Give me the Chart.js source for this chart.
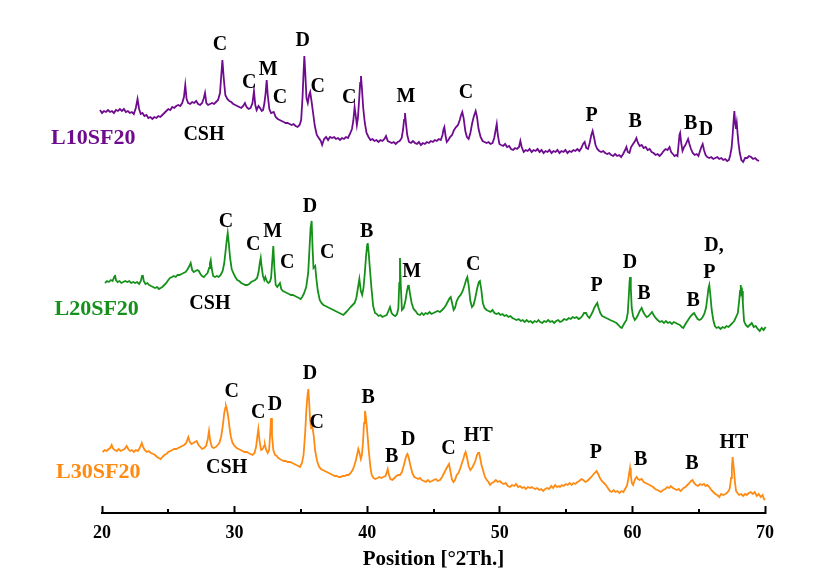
<!DOCTYPE html>
<html>
<head>
<meta charset="utf-8">
<script src="https://cdn.jsdelivr.net/npm/chart.js@4.4.1/dist/chart.umd.min.js"></script>
<style>
html,body{margin:0;padding:0;background:#fff;}
canvas{display:block;}
</style>
</head>
<body>
<canvas id="c" width="833" height="580"></canvas>
<script>
// Series: [2θ (deg), intensity (a.u., stacked as plotted)]
const seriesNames = ['L10SF20', 'L20SF20', 'L30SF20'];

const l10sf20 = [
[19.70,401],[19.85,403],[20.00,400],[20.15,402],[20.30,401],[20.45,403],[20.60,401],[20.75,402],[20.90,400],[21.05,403],
[21.20,402],[21.35,404],[21.50,402],[21.65,404],[21.80,401],[21.95,402],[22.10,400],[22.25,401],[22.40,399],[22.55,405],
[22.68,414],[22.80,404],[22.92,399],[23.05,400],[23.20,397],[23.35,398],[23.50,395],[23.65,396],[23.80,394],[23.95,396],
[24.10,395],[24.25,397],[24.40,396],[24.55,398],[24.70,400],[24.85,402],[25.00,404],[25.15,403],[25.30,406],[25.45,405],
[25.60,407],[25.75,408],[25.90,407],[26.05,410],[26.18,416],[26.28,428],[26.38,414],[26.50,410],[26.65,409],[26.80,411],
[26.95,410],[27.10,412],[27.25,409],[27.40,408],[27.55,410],[27.68,415],[27.77,420],[27.87,410],[28.00,408],[28.15,409],
[28.30,410],[28.45,409],[28.60,411],[28.75,413],[28.90,420],[28.98,435],[29.08,453],[29.18,435],[29.30,418],[29.45,414],
[29.60,412],[29.75,411],[29.90,409],[30.05,408],[30.20,407],[30.35,406],[30.50,405],[30.65,407],[30.78,410],[30.90,406],
[31.05,404],[31.20,405],[31.35,410],[31.46,422],[31.56,408],[31.66,403],[31.80,407],[31.92,405],[32.05,402],[32.15,403],
[32.25,410],[32.34,420],[32.42,433],[32.50,418],[32.62,404],[32.75,400],[32.95,401],[33.10,396],[33.25,394],[33.40,393],
[33.55,392],[33.70,391],[33.85,390],[34.00,390],[34.15,389],[34.30,388],[34.45,389],[34.60,387],[34.75,386],[34.90,388],
[35.02,393],[35.12,415],[35.20,440],[35.26,457],[35.33,440],[35.42,415],[35.52,410],[35.62,418],[35.70,421],[35.80,412],
[35.92,400],[36.05,387],[36.20,378],[36.35,375],[36.50,372],[36.60,368],[36.75,374],[36.90,376],[37.05,373],[37.20,376],
[37.35,375],[37.50,376],[37.65,374],[37.80,375],[37.95,373],[38.10,375],[38.25,374],[38.40,376],[38.55,375],[38.70,379],
[38.85,384],[38.95,392],[39.05,406],[39.13,398],[39.22,388],[39.30,395],[39.40,415],[39.47,430],[39.53,437],[39.60,425],
[39.70,405],[39.82,390],[39.95,380],[40.10,376],[40.25,373],[40.40,374],[40.55,372],[40.70,373],[40.85,371],[41.00,373],
[41.15,372],[41.30,374],[41.42,377],[41.55,372],[41.70,371],[41.85,370],[42.00,371],[42.15,369],[42.30,371],[42.45,372],
[42.60,375],[42.70,383],[42.78,393],[42.85,400],[42.92,390],[43.02,378],[43.15,371],[43.30,370],[43.45,372],[43.60,370],
[43.75,369],[43.90,371],[44.05,368],[44.20,370],[44.35,369],[44.50,371],[44.65,370],[44.80,372],[44.95,371],[45.10,373],
[45.25,372],[45.40,374],[45.55,373],[45.68,378],[45.76,384],[45.82,386],[45.90,378],[46.00,371],[46.12,373],[46.25,376],
[46.40,378],[46.55,383],[46.70,386],[46.85,388],[46.98,393],[47.08,398],[47.17,401],[47.27,395],[47.40,382],[47.52,376],
[47.65,374],[47.78,380],[47.92,390],[48.05,397],[48.18,402],[48.28,396],[48.40,384],[48.55,376],[48.70,372],[48.85,371],
[49.00,370],[49.15,371],[49.30,369],[49.45,370],[49.58,375],[49.70,384],[49.77,389],[49.85,378],[49.97,369],[50.10,368],
[50.25,367],[50.40,369],[50.55,366],[50.70,367],[50.85,364],[51.00,363],[51.15,365],[51.30,364],[51.45,366],[51.55,372],
[51.65,366],[51.80,361],[51.95,363],[52.10,362],[52.25,364],[52.40,361],[52.55,363],[52.70,362],[52.85,364],[53.00,361],
[53.15,363],[53.30,360],[53.45,362],[53.60,361],[53.75,363],[53.90,360],[54.05,362],[54.20,361],[54.35,363],[54.50,360],
[54.65,362],[54.80,361],[54.95,363],[55.10,360],[55.25,362],[55.40,361],[55.55,363],[55.70,362],[55.85,364],[56.00,362],
[56.15,365],[56.28,369],[56.40,371],[56.52,365],[56.65,364],[56.78,370],[56.90,378],[57.00,382],[57.10,376],[57.22,368],
[57.35,364],[57.50,362],[57.65,361],[57.80,362],[57.95,360],[58.10,359],[58.25,360],[58.40,358],[58.55,357],[58.70,359],
[58.85,357],[59.00,358],[59.15,356],[59.30,359],[59.45,363],[59.55,366],[59.65,361],[59.78,360],[59.90,366],[60.05,369],
[60.20,372],[60.30,375],[60.42,370],[60.55,367],[60.70,368],[60.85,365],[61.00,366],[61.15,363],[61.30,364],[61.45,361],
[61.60,360],[61.75,358],[61.90,359],[62.05,357],[62.20,359],[62.35,362],[62.50,364],[62.65,363],[62.80,366],[62.92,361],
[63.05,359],[63.18,357],[63.30,358],[63.40,357],[63.48,368],[63.55,378],[63.60,380],[63.68,370],[63.78,362],[63.90,366],
[64.00,368],[64.10,371],[64.20,374],[64.30,369],[64.42,364],[64.55,360],[64.70,358],[64.85,359],[64.98,357],[65.10,362],
[65.20,366],[65.30,369],[65.40,363],[65.52,358],[65.65,356],[65.80,355],[65.95,356],[66.10,354],[66.25,355],[66.40,356],
[66.55,354],[66.70,355],[66.85,353],[67.00,354],[67.15,352],[67.28,353],[67.38,358],[67.48,365],[67.56,378],[67.63,392],
[67.69,402],[67.75,390],[67.81,384],[67.87,390],[67.93,380],[68.00,370],[68.10,360],[68.22,353],[68.35,351],[68.50,355],
[68.65,355],[68.80,357],[68.95,356],[69.10,354],[69.25,355],[69.40,353],[69.55,352],[69.60,352]
];

const l20sf20 = [
[20.23,230],[20.38,232],[20.52,231],[20.66,233],[20.80,232],[20.92,236],[20.98,238],[21.05,233],[21.18,231],[21.32,232],
[21.46,230],[21.60,231],[21.75,232],[21.90,231],[22.05,232],[22.20,230],[22.35,231],[22.50,230],[22.65,231],[22.80,229],
[22.93,232],[23.02,237],[23.07,238],[23.15,232],[23.28,229],[23.42,230],[23.56,228],[23.70,227],[23.85,226],[24.00,225],
[24.15,226],[24.30,224],[24.42,225],[24.55,226],[24.70,228],[24.85,230],[25.00,233],[25.13,235],[25.28,236],[25.42,237],
[25.56,236],[25.70,238],[25.85,238],[26.00,239],[26.15,240],[26.30,241],[26.42,243],[26.55,246],[26.69,250],[26.80,243],
[26.92,241],[27.05,242],[27.18,243],[27.30,242],[27.42,239],[27.55,237],[27.68,236],[27.82,238],[27.96,240],[28.08,245],
[28.14,250],[28.20,253],[28.27,245],[28.38,237],[28.52,236],[28.66,237],[28.80,236],[28.95,238],[29.10,242],[29.22,250],
[29.32,262],[29.40,272],[29.48,280],[29.56,270],[29.66,255],[29.78,244],[29.90,240],[30.05,236],[30.20,233],[30.35,232],
[30.50,230],[30.65,229],[30.80,228],[30.95,228],[31.10,229],[31.25,231],[31.40,232],[31.55,233],[31.70,235],[31.82,242],
[31.90,250],[31.97,255],[32.05,245],[32.14,237],[32.24,233],[32.32,236],[32.42,232],[32.55,230],[32.65,231],[32.75,235],
[32.84,252],[32.92,267],[33.00,245],[33.10,228],[33.22,226],[33.32,228],[33.42,230],[33.52,224],[33.65,222],[33.80,221],
[33.95,220],[34.10,219],[34.25,218],[34.40,218],[34.55,217],[34.70,216],[34.85,215],[34.98,214],[35.10,216],[35.25,220],
[35.40,226],[35.55,240],[35.65,265],[35.73,285],[35.81,292],[35.88,265],[35.95,245],[36.02,246],[36.08,247],[36.16,235],
[36.28,222],[36.42,213],[36.55,210],[36.70,208],[36.85,207],[37.00,206],[37.15,205],[37.30,204],[37.45,203],[37.60,202],
[37.75,201],[37.90,200],[38.05,199],[38.20,198],[38.35,200],[38.50,202],[38.62,204],[38.75,206],[38.90,208],[39.05,210],
[39.18,215],[39.30,225],[39.41,234],[39.52,222],[39.62,218],[39.72,225],[39.82,240],[39.92,258],[40.00,268],[40.04,270],
[40.10,262],[40.20,245],[40.32,225],[40.45,207],[40.59,200],[40.72,199],[40.85,197],[41.00,198],[41.15,196],[41.30,197],
[41.47,198],[41.60,202],[41.72,206],[41.84,200],[41.98,198],[42.12,197],[42.25,199],[42.35,205],[42.42,230],[42.47,255],
[42.54,225],[42.62,203],[42.75,205],[42.88,212],[43.00,222],[43.08,227],[43.13,228],[43.22,220],[43.35,210],[43.50,204],
[43.65,202],[43.80,199],[43.98,198],[44.12,200],[44.26,198],[44.40,200],[44.55,199],[44.70,201],[44.85,199],[45.00,200],
[45.15,201],[45.30,202],[45.49,201],[45.65,203],[45.80,205],[45.95,208],[46.10,212],[46.22,215],[46.30,216],[46.40,210],
[46.52,203],[46.62,205],[46.75,212],[46.90,216],[47.05,218],[47.20,222],[47.35,228],[47.48,234],[47.55,236],[47.65,228],
[47.78,212],[47.90,206],[48.02,208],[48.15,215],[48.30,225],[48.42,231],[48.50,232],[48.60,224],[48.72,210],[48.85,205],
[49.00,203],[49.15,202],[49.30,201],[49.45,203],[49.60,200],[49.75,199],[49.90,200],[50.05,198],[50.20,199],[50.35,197],
[50.50,198],[50.65,196],[50.80,197],[50.95,195],[51.10,194],[51.27,193],[51.42,194],[51.58,192],[51.72,193],[51.88,191],
[52.02,193],[52.18,191],[52.32,192],[52.48,190],[52.62,192],[52.78,191],[52.92,193],[53.05,191],[53.20,190],[53.35,192],
[53.50,191],[53.65,193],[53.80,191],[53.95,192],[54.10,190],[54.25,192],[54.40,193],[54.55,191],[54.70,192],[54.85,194],
[55.04,193],[55.20,195],[55.35,194],[55.50,196],[55.65,195],[55.80,196],[55.95,194],[56.08,195],[56.22,197],[56.35,200],
[56.50,200],[56.62,197],[56.75,195],[56.88,198],[57.00,201],[57.12,205],[57.25,208],[57.35,210],[57.45,205],[57.58,200],
[57.72,197],[57.88,196],[58.02,195],[58.18,194],[58.32,193],[58.50,192],[58.65,191],[58.80,190],[58.95,188],[59.08,186],
[59.20,185],[59.32,188],[59.45,191],[59.55,193],[59.65,200],[59.72,215],[59.78,230],[59.82,236],[59.88,225],[59.95,205],
[60.05,197],[60.18,193],[60.30,195],[60.42,198],[60.55,202],[60.70,205],[60.82,201],[60.95,198],[61.08,196],[61.22,197],
[61.35,199],[61.48,201],[61.60,198],[61.75,195],[61.90,193],[62.08,191],[62.22,192],[62.38,190],[62.52,192],[62.68,190],
[62.82,191],[62.98,189],[63.12,191],[63.28,190],[63.42,189],[63.58,188],[63.72,186],[63.84,185],[63.96,188],[64.10,191],
[64.25,194],[64.40,197],[64.55,199],[64.65,200],[64.78,197],[64.92,194],[65.05,193],[65.18,194],[65.30,196],[65.42,199],
[65.55,205],[65.65,215],[65.74,225],[65.80,228],[65.88,218],[65.98,203],[66.10,193],[66.22,187],[66.35,185],[66.50,186],
[66.65,184],[66.80,186],[66.95,185],[67.10,187],[67.25,186],[67.40,188],[67.55,190],[67.68,192],[67.82,196],[67.95,200],
[68.05,212],[68.12,222],[68.17,228],[68.22,220],[68.27,222],[68.33,210],[68.42,192],[68.55,188],[68.70,186],[68.85,188],
[69.00,190],[69.15,186],[69.30,187],[69.45,184],[69.60,182],[69.75,185],[69.90,183],[70.05,186]
];

const l30sf20 = [
[20.05,61],[20.20,63],[20.35,62],[20.50,64],[20.62,65],[20.73,68],[20.85,64],[20.98,63],[21.12,62],[21.25,64],
[21.40,62],[21.55,63],[21.70,64],[21.86,67],[21.98,64],[22.12,62],[22.26,63],[22.40,61],[22.55,63],[22.70,62],
[22.85,65],[22.94,68],[23.00,70],[23.10,66],[23.22,63],[23.38,61],[23.52,62],[23.68,60],[23.87,59],[24.00,58],
[24.15,56],[24.28,55],[24.42,54],[24.55,56],[24.70,58],[24.85,59],[25.00,61],[25.15,62],[25.30,63],[25.45,64],
[25.60,64],[25.75,65],[25.90,66],[26.05,67],[26.20,68],[26.35,70],[26.51,76],[26.62,71],[26.75,69],[26.88,70],
[27.00,71],[27.14,72],[27.28,68],[27.42,66],[27.55,64],[27.70,65],[27.85,67],[27.98,74],[28.07,82],[28.15,73],
[28.28,66],[28.42,65],[28.58,66],[28.72,68],[28.85,70],[28.98,76],[29.10,86],[29.22,100],[29.30,105],[29.35,107],
[29.42,104],[29.52,96],[29.62,85],[29.72,76],[29.85,70],[30.00,67],[30.15,65],[30.30,64],[30.45,63],[30.60,62],
[30.75,61],[30.91,61],[31.05,60],[31.20,59],[31.35,58],[31.50,60],[31.62,66],[31.72,77],[31.79,84],[31.88,72],
[32.00,63],[32.12,64],[32.22,67],[32.29,68],[32.38,63],[32.50,60],[32.60,63],[32.68,78],[32.75,95],[32.82,78],
[32.92,63],[33.05,58],[33.18,57],[33.30,55],[33.42,54],[33.55,53],[33.70,52],[33.85,52],[34.00,51],[34.18,51],
[34.35,50],[34.50,49],[34.65,48],[34.80,47],[34.93,46],[35.08,50],[35.20,58],[35.32,80],[35.42,105],[35.50,118],
[35.56,124],[35.62,112],[35.70,92],[35.78,85],[35.87,86],[35.96,78],[36.08,62],[36.22,52],[36.35,47],[36.50,44],
[36.65,43],[36.80,42],[36.95,41],[37.10,40],[37.25,39],[37.40,38],[37.55,37],[37.70,37],[37.85,36],[38.00,36],
[38.15,37],[38.30,37],[38.45,38],[38.60,38],[38.75,40],[38.90,43],[39.02,47],[39.15,53],[39.25,59],[39.33,64],
[39.42,60],[39.52,54],[39.60,58],[39.68,70],[39.76,90],[39.83,102],[39.90,96],[40.00,82],[40.12,62],[40.25,45],
[40.34,38],[40.48,35],[40.62,34],[40.78,35],[40.92,36],[41.06,35],[41.21,36],[41.38,37],[41.48,41],[41.55,44],
[41.62,39],[41.75,34],[41.90,33],[42.05,35],[42.20,37],[42.35,38],[42.47,38],[42.62,41],[42.75,47],[42.88,54],
[42.98,58],[43.03,59],[43.12,56],[43.25,48],[43.40,40],[43.55,36],[43.70,35],[43.85,34],[43.98,35],[44.12,33],
[44.28,32],[44.42,31],[44.58,33],[44.72,31],[44.88,32],[45.02,33],[45.18,34],[45.32,32],[45.49,33],[45.65,36],
[45.80,40],[45.95,44],[46.08,47],[46.17,49],[46.26,43],[46.38,34],[46.50,31],[46.62,33],[46.75,38],[46.88,40],
[47.00,44],[47.12,49],[47.25,54],[47.35,59],[47.42,61],[47.52,56],[47.65,47],[47.78,43],[47.90,45],[48.02,48],
[48.15,52],[48.28,58],[48.36,60],[48.43,61],[48.52,55],[48.62,48],[48.75,42],[48.88,36],[49.02,33],[49.15,31],
[49.26,28],[49.40,30],[49.55,31],[49.70,33],[49.85,31],[50.00,32],[50.15,30],[50.30,29],[50.45,30],[50.60,27],
[50.77,26],[50.92,28],[51.08,27],[51.22,29],[51.38,26],[51.52,27],[51.68,25],[51.82,26],[51.98,24],[52.12,26],
[52.28,25],[52.40,26],[52.52,25],[52.68,24],[52.82,25],[52.98,23],[53.12,24],[53.28,22],[53.42,24],[53.58,25],
[53.72,24],[53.88,27],[54.02,25],[54.18,28],[54.32,26],[54.45,27],[54.54,26],[54.68,28],[54.82,27],[54.98,29],
[55.12,28],[55.28,30],[55.42,28],[55.55,30],[55.70,29],[55.85,31],[56.00,32],[56.15,34],[56.30,33],[56.45,31],
[56.60,32],[56.75,34],[56.90,36],[57.02,38],[57.15,40],[57.30,42],[57.42,39],[57.55,35],[57.70,32],[57.85,30],
[58.00,28],[58.15,25],[58.30,22],[58.44,21],[58.58,23],[58.72,21],[58.88,22],[59.02,20],[59.18,22],[59.32,21],
[59.45,24],[59.58,27],[59.68,33],[59.76,40],[59.82,45],[59.88,38],[59.96,30],[60.05,28],[60.15,32],[60.25,35],
[60.32,36],[60.42,34],[60.55,33],[60.70,34],[60.85,31],[61.00,30],[61.15,29],[61.30,28],[61.42,27],[61.57,26],
[61.72,24],[61.88,23],[62.02,22],[62.15,21],[62.32,23],[62.48,24],[62.62,26],[62.78,25],[62.90,27],[63.05,25],
[63.20,24],[63.35,23],[63.50,24],[63.62,22],[63.72,23],[63.86,25],[64.00,26],[64.15,28],[64.30,30],[64.42,32],
[64.54,33],[64.65,30],[64.80,28],[64.95,27],[65.10,29],[65.25,28],[65.40,29],[65.52,27],[65.65,28],[65.80,26],
[65.95,23],[66.10,21],[66.25,19],[66.40,18],[66.55,16],[66.70,19],[66.85,18],[67.00,19],[67.12,20],[67.25,22],
[67.35,25],[67.44,35],[67.50,45],[67.56,56],[67.62,48],[67.68,40],[67.74,30],[67.82,22],[67.92,20],[68.05,18],
[68.20,19],[68.35,17],[68.50,19],[68.62,18],[68.78,20],[68.92,21],[69.08,19],[69.22,21],[69.38,17],[69.52,19],
[69.68,16],[69.82,18],[69.92,14],[70.00,13]
];

const xTicks = [20, 30, 40, 50, 60, 70];
const xMinorTicks = [25, 35, 45, 55, 65];
const xTitle = 'Position [°2Th.]';

// Phase labels: [text, 2θ, intensity]
const phaseLabels = [
['C',28.90,468],['C',31.11,430],['M',32.54,443],['C',33.42,415],['D',35.14,472],['C',36.27,426],['C',38.65,415],
['M',42.93,416],['C',47.45,420],['P',56.93,397],['B',60.20,391],['B',64.40,389],['D',65.55,383],['CSH',27.69,378],
['C',29.35,291],['C',31.41,268],['M',32.87,281],['C',33.97,250],['D',35.69,306],['C',36.99,260],['B',39.96,281],
['M',43.36,241],['C',48.00,248],['P',57.30,227],['D',59.82,250],['B',60.87,219],['B',64.59,212],['D,',66.15,267],
['P',65.80,240],['CSH',28.14,209],
['C',29.78,121],['C',31.79,100],['D',33.05,108],['D',35.69,139],['C',36.19,90],['B',40.08,115],['B',41.85,56],
['D',43.10,73],['C',46.12,64],['HT',48.38,77],['P',57.25,60],['B',60.62,53],['B',64.49,49],['HT',67.66,70],
['CSH',29.40,45]
];
// Sample name labels: [text, 2θ, intensity]
const sampleLabels = [['L10SF20',19.34,375],['L20SF20',19.60,204],['L30SF20',19.72,41]];
const seriesColors = ['#6e0b8e', '#15911a', '#ff8a12'];

const SERIF = '"Liberation Serif", "Times New Roman", serif';

const textPlugin = {
  id: 'xrdText',
  afterDatasetsDraw(chart) {
    const {ctx, scales: {x, y}} = chart;
    ctx.save();
    ctx.textAlign = 'center';
    ctx.textBaseline = 'middle';
    ctx.fillStyle = '#000';
    ctx.font = 'bold 20px ' + SERIF;
    phaseLabels.forEach(([t, a, b]) => ctx.fillText(t, x.getPixelForValue(a), y.getPixelForValue(b)));
    ctx.font = 'bold 22px ' + SERIF;
    sampleLabels.forEach(([t, a, b], i) => {
      ctx.fillStyle = seriesColors[i];
      ctx.fillText(t, x.getPixelForValue(a), y.getPixelForValue(b));
    });
    // minor ticks
    ctx.strokeStyle = '#000';
    ctx.lineWidth = 2;
    const base = chart.chartArea.bottom;
    xMinorTicks.forEach(v => {
      const px = Math.round(x.getPixelForValue(v));
      ctx.beginPath();
      ctx.moveTo(px, base);
      ctx.lineTo(px, base - 4);
      ctx.stroke();
    });
    ctx.restore();
  }
};

const datasets = [l10sf20, l20sf20, l30sf20].map((d, i) => ({
  label: seriesNames[i],
  data: d.map(p => ({x: p[0], y: p[1]})),
  borderColor: seriesColors[i],
  borderWidth: 1.8,
  pointRadius: 0,
  tension: 0,
  fill: false,
  clip: false
}));

new Chart(document.getElementById('c'), {
  type: 'line',
  data: {datasets},
  options: {
    responsive: false,
    animation: false,
    devicePixelRatio: 1,
    layout: {padding: {left: 102, right: 68, top: 0, bottom: 0}},
    plugins: {legend: {display: false}, tooltip: {enabled: false}},
    scales: {
      x: {
        type: 'linear', min: 20, max: 70, position: 'bottom',
        afterBuildTicks: s => { s.ticks = xTicks.map(v => ({value: v})); },
        ticks: {color: '#000', font: {family: SERIF, size: 18, weight: 'bold'}, padding: 17, maxRotation: 0, autoSkip: false},
        grid: {drawOnChartArea: false, drawTicks: true, tickLength: -7, tickWidth: 2, tickColor: '#000'},
        border: {display: true, color: '#000', width: 2},
        title: {display: true, text: xTitle, color: '#000', font: {family: SERIF, size: 21, weight: 'bold'}, padding: {top: 0, bottom: 8}},
        afterFit: s => { s.height = 67; }
      },
      y: {display: false, min: 0, max: 513}
    }
  },
  plugins: [textPlugin]
});
</script>
</body>
</html>
